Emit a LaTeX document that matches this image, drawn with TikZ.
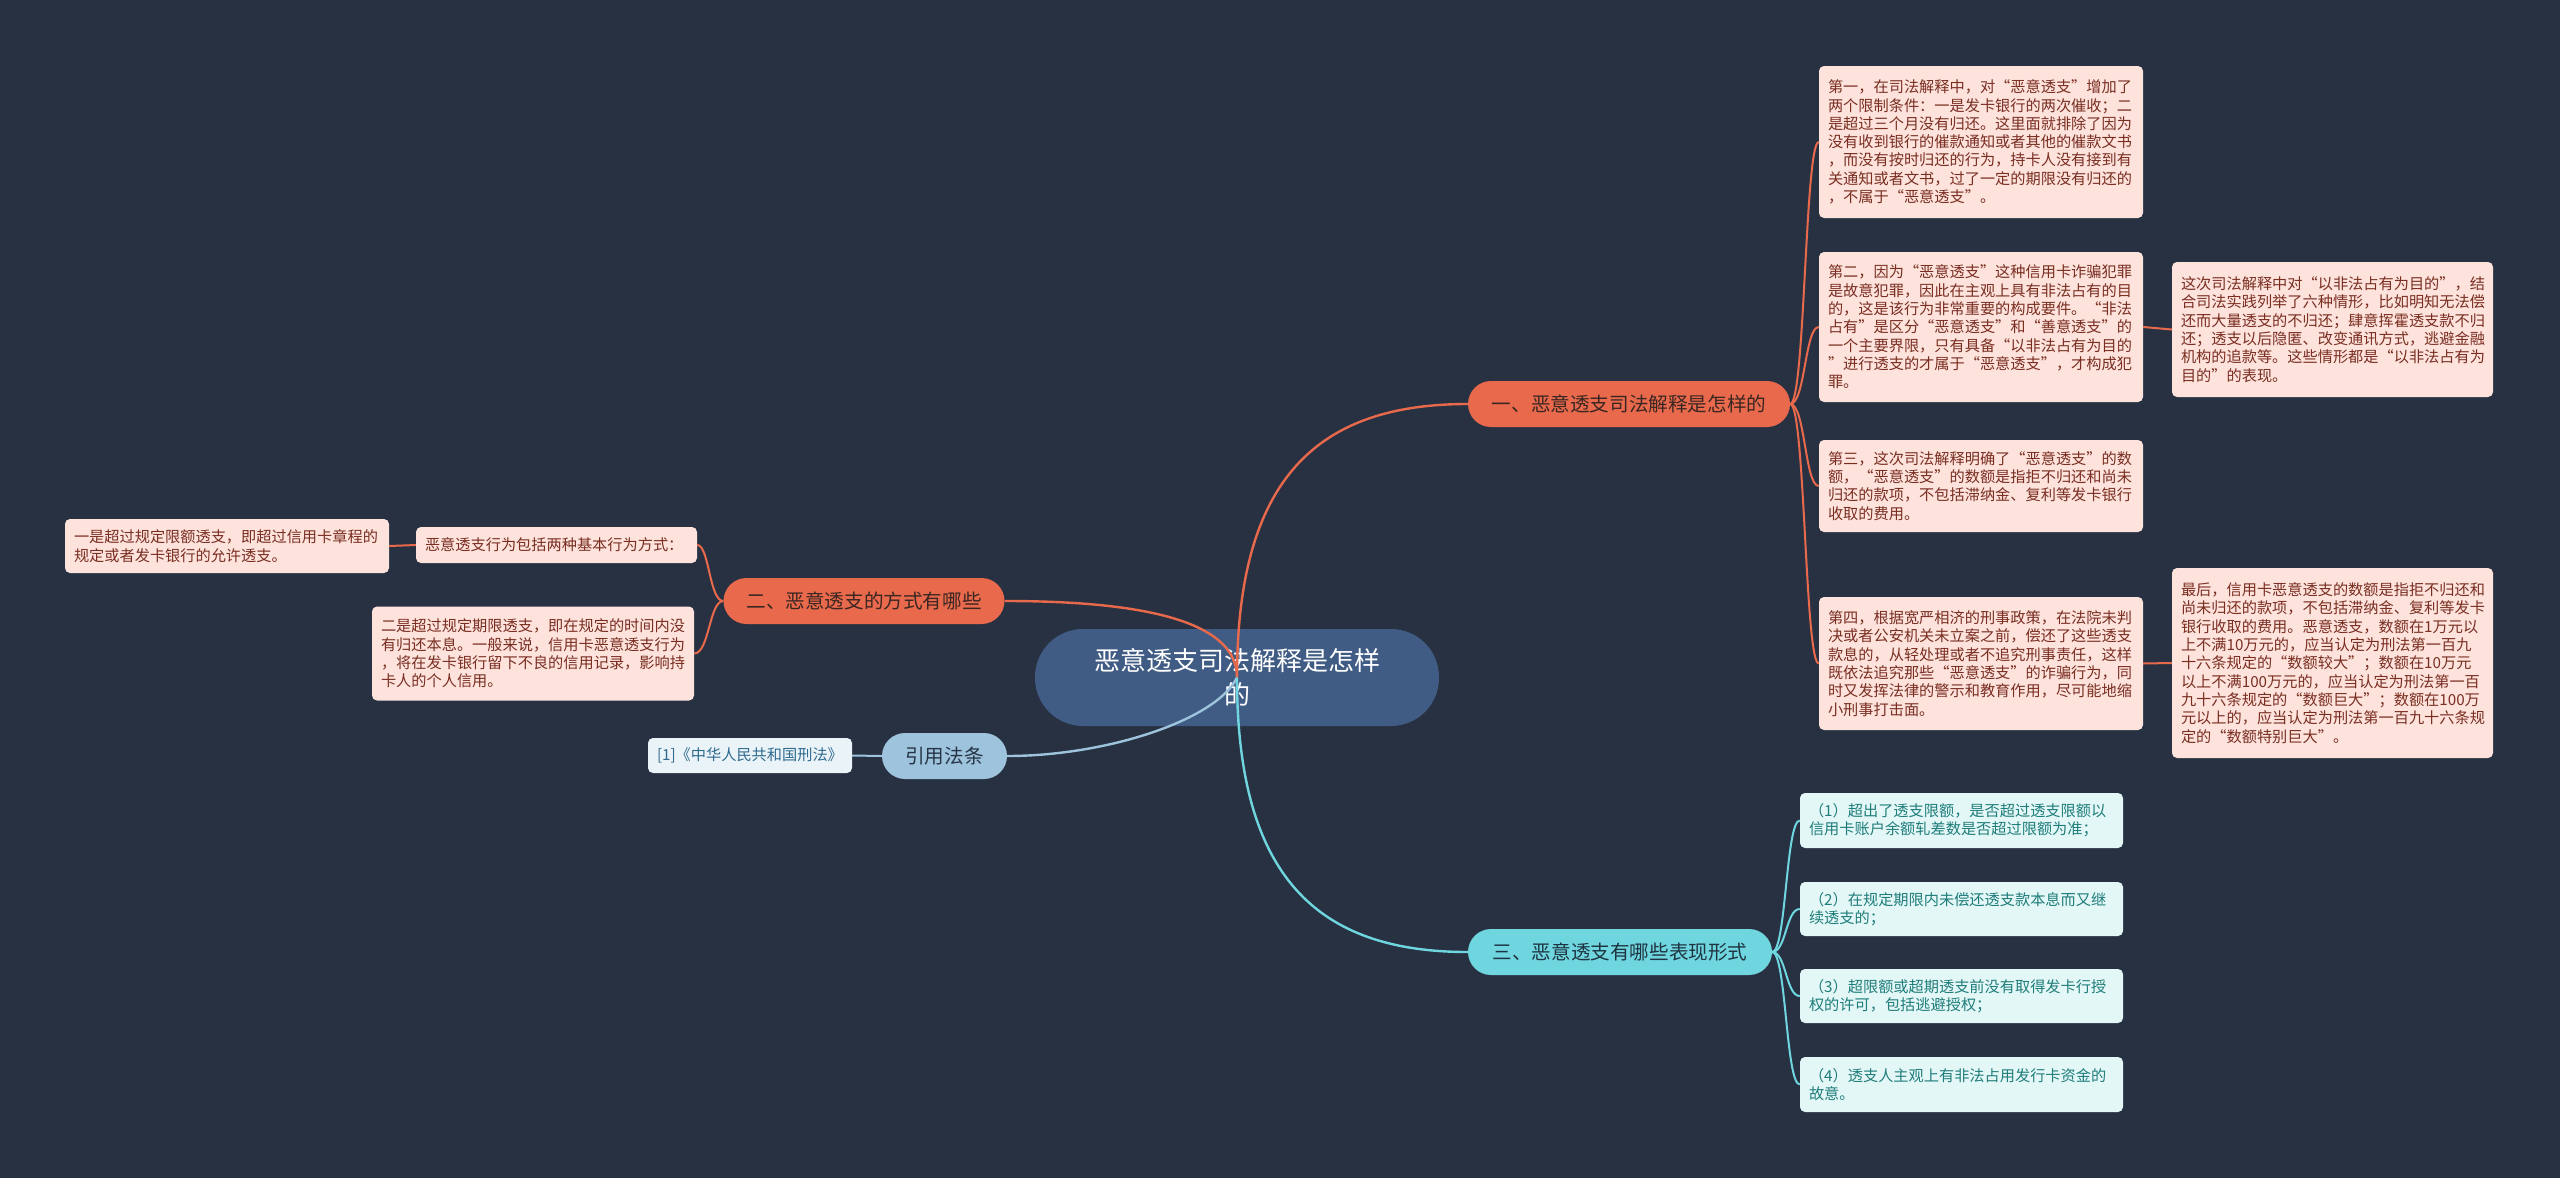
\documentclass[tikz,border=0pt]{standalone}
\usepackage{fontspec}
\setmainfont{Noto Sans CJK SC}
\definecolor{bg}{HTML}{283142}
\definecolor{cnode}{HTML}{405C84}
\definecolor{orng}{HTML}{E8694B}
\definecolor{orngtxt}{HTML}{3A2622}
\definecolor{peach}{HTML}{FDE3DC}
\definecolor{peachtxt}{HTML}{7A2E22}
\definecolor{lblue}{HTML}{9DC3DD}
\definecolor{lbluetxt}{HTML}{263445}
\definecolor{reffill}{HTML}{EAF3F8}
\definecolor{reftxt}{HTML}{2F6A8E}
\definecolor{cyanb}{HTML}{6FD6DF}
\definecolor{cyantxt}{HTML}{1E3440}
\definecolor{cyanleaf}{HTML}{E3F7F7}
\definecolor{cyanleaftxt}{HTML}{1F7D7A}
\begin{document}
\begin{tikzpicture}[x=1pt,y=-1pt,
  centernode/.style={fill=cnode, text=white, rounded corners=48pt, minimum width=404pt, minimum height=97pt, inner sep=0pt, align=center, font=\fontsize{26}{34.5}\selectfont},
  branchbox/.style={rounded corners=23pt, minimum height=46pt, inner xsep=0pt, inner ysep=0pt, font=\fontsize{19.6}{24}\selectfont},
  leafbox/.style={rounded corners=5pt, inner xsep=9pt, inner ysep=0pt, align=left, font=\fontsize{15.2}{18.3}\selectfont},
  peachleaf/.style={leafbox, fill=peach, text=peachtxt},
  cyanleafbox/.style={leafbox, fill=cyanleaf, text=cyanleaftxt},
  refleaf/.style={leafbox, fill=reffill, text=reftxt},
  oline/.style={draw=orng, line width=2pt},
  othick/.style={draw=orng, line width=2.4pt},
  cline/.style={draw=cyanb, line width=2pt},
  cthick/.style={draw=cyanb, line width=2.4pt},
  bline/.style={draw=lblue, line width=2pt},
  bthick/.style={draw=lblue, line width=2.4pt}
]
\fill[bg] (0,0) rectangle (2560,1178);

% center
\node[centernode] (C) at (1237,677.5) {恶意透支司法解释是怎样\\的};

% branches
\node[branchbox, fill=orng, text=orngtxt, minimum width=322pt] (B1) at (1629,404) {一、恶意透支司法解释是怎样的};
\node[branchbox, fill=orng, text=orngtxt, minimum width=281pt] (B2) at (864,601) {二、恶意透支的方式有哪些};
\node[branchbox, fill=lblue, text=lbluetxt, minimum width=125pt] (B3) at (944.5,756) {引用法条};
\node[branchbox, fill=cyanb, text=cyantxt, minimum width=304pt] (B4) at (1620,952) {三、恶意透支有哪些表现形式};

% center connectors (drawn over the center node)
\draw[othick] (C.center) .. controls +(0,-200) and +(-150,0) .. (B1.west);
\draw[othick] (C.center) .. controls +(0,-51) and +(156,0) .. (B2.east);
\draw[bthick] (C.center) .. controls +(-20,42) and +(100,0) .. (B3.east);
\draw[cthick] (C.center) .. controls +(0,200) and +(-150,0) .. (B4.west);

% branch 1 leaves
\node[peachleaf, text width=306pt, minimum height=152pt] (L1a) at (1981,142) {第一，在司法解释中，对“恶意透支”增加了\\两个限制条件：一是发卡银行的两次催收；二\\是超过三个月没有归还。这里面就排除了因为\\没有收到银行的催款通知或者其他的催款文书\\，而没有按时归还的行为，持卡人没有接到有\\关通知或者文书，过了一定的期限没有归还的\\，不属于“恶意透支”。};
\node[peachleaf, text width=306pt, minimum height=150pt] (L1b) at (1981,327) {第二，因为“恶意透支”这种信用卡诈骗犯罪\\是故意犯罪，因此在主观上具有非法占有的目\\的，这是该行为非常重要的构成要件。“非法\\占有”是区分“恶意透支”和“善意透支”的\\一个主要界限，只有具备“以非法占有为目的\\”进行透支的才属于“恶意透支”，才构成犯\\罪。};
\node[peachleaf, text width=306pt, minimum height=92pt] (L1c) at (1981,486) {第三，这次司法解释明确了“恶意透支”的数\\额，“恶意透支”的数额是指拒不归还和尚未\\归还的款项，不包括滞纳金、复利等发卡银行\\收取的费用。};
\node[peachleaf, text width=306pt, minimum height=133pt] (L1d) at (1981,663.5) {第四，根据宽严相济的刑事政策，在法院未判\\决或者公安机关未立案之前，偿还了这些透支\\款息的，从轻处理或者不追究刑事责任，这样\\既依法追究那些“恶意透支”的诈骗行为，同\\时又发挥法律的警示和教育作用，尽可能地缩\\小刑事打击面。};
\node[peachleaf, text width=303pt, minimum height=135pt] (L1b2) at (2332.5,329.5) {这次司法解释中对“以非法占有为目的”，结\\合司法实践列举了六种情形，比如明知无法偿\\还而大量透支的不归还；肆意挥霍透支款不归\\还；透支以后隐匿、改变通讯方式，逃避金融\\机构的追款等。这些情形都是“以非法占有为\\目的”的表现。};
\node[peachleaf, text width=303pt, minimum height=190pt] (L1d2) at (2332.5,663) {最后，信用卡恶意透支的数额是指拒不归还和\\尚未归还的款项，不包括滞纳金、复利等发卡\\银行收取的费用。恶意透支，数额在1万元以\\上不满10万元的，应当认定为刑法第一百九\\十六条规定的“数额较大”；数额在10万元\\以上不满100万元的，应当认定为刑法第一百\\九十六条规定的“数额巨大”；数额在100万\\元以上的，应当认定为刑法第一百九十六条规\\定的“数额特别巨大”。};

\draw[oline] (B1.east) .. controls +(15,0) and +(-14,0) .. (L1a.west);
\draw[oline] (B1.east) .. controls +(15,0) and +(-14,0) .. (L1b.west);
\draw[oline] (B1.east) .. controls +(15,0) and +(-14,0) .. (L1c.west);
\draw[oline] (B1.east) .. controls +(15,0) and +(-14,0) .. (L1d.west);
\draw[oline] (L1b.east) -- (L1b2.west);
\draw[oline] (L1d.east) -- (L1d2.west);

% branch 2 leaves
\node[peachleaf, text width=306pt, minimum height=54pt] (LA) at (227,546) {一是超过规定限额透支，即超过信用卡章程的\\规定或者发卡银行的允许透支。};
\node[peachleaf, text width=263pt, minimum height=36pt] (LB) at (556.5,545) {恶意透支行为包括两种基本行为方式：};
\node[peachleaf, text width=304pt, minimum height=94pt] (LC) at (533,653.5) {二是超过规定期限透支，即在规定的时间内没\\有归还本息。一般来说，信用卡恶意透支行为\\，将在发卡银行留下不良的信用记录，影响持\\卡人的个人信用。};
\draw[oline] (B2.west) .. controls +(-14,0) and +(12,0) .. (LB.east);
\draw[oline] (B2.west) .. controls +(-14,0) and +(15,0) .. (LC.east);
\draw[oline] (LB.west) -- (LA.east);

% branch 3 leaf
\node[refleaf, text width=186pt, minimum height=35pt] (R1) at (750,755.5) {[1]《中华人民共和国刑法》};
\draw[bline] (B3.west) -- (R1.east);

% branch 4 leaves
\node[cyanleafbox, text width=305pt, minimum height=55pt] (L4a) at (1961.5,820.5) {（1）超出了透支限额，是否超过透支限额以\\信用卡账户余额轧差数是否超过限额为准；};
\node[cyanleafbox, text width=305pt, minimum height=54pt] (L4b) at (1961.5,909) {（2）在规定期限内未偿还透支款本息而又继\\续透支的；};
\node[cyanleafbox, text width=305pt, minimum height=54pt] (L4c) at (1961.5,996) {（3）超限额或超期透支前没有取得发卡行授\\权的许可，包括逃避授权；};
\node[cyanleafbox, text width=305pt, minimum height=55pt] (L4d) at (1961.5,1084.5) {（4）透支人主观上有非法占用发行卡资金的\\故意。};
\draw[cline] (B4.east) .. controls +(14,0) and +(-14,0) .. (L4a.west);
\draw[cline] (B4.east) .. controls +(14,0) and +(-14,0) .. (L4b.west);
\draw[cline] (B4.east) .. controls +(14,0) and +(-14,0) .. (L4c.west);
\draw[cline] (B4.east) .. controls +(14,0) and +(-14,0) .. (L4d.west);
\end{tikzpicture}
\end{document}
